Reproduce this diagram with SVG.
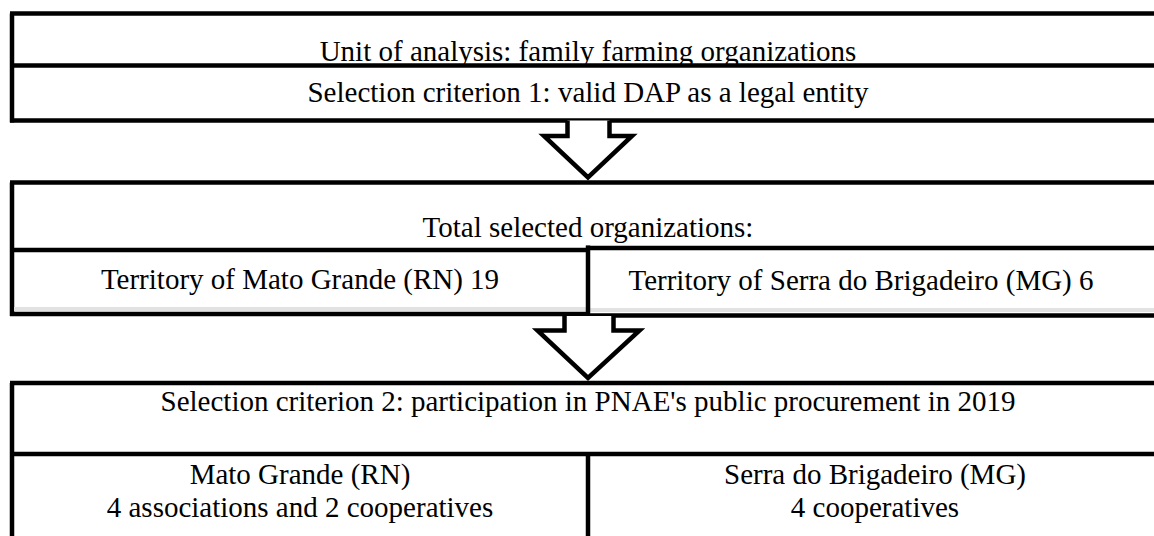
<svg xmlns="http://www.w3.org/2000/svg" width="1154" height="536" viewBox="0 0 1154 536">
<style>
.ln{stroke:#000;stroke-width:4.5;fill:none}
.band{fill:#e2e2e2}
text{font-family:'Liberation Serif',serif;font-size:29px;fill:#000;text-anchor:middle}
.arr{fill:#fff;stroke:#000;stroke-width:4.5;stroke-linejoin:miter}
</style>
<rect width="1154" height="536" fill="#fff"/>
<g id="box1">
<line class="ln" x1="10" y1="13.5" x2="1154" y2="13.5"/>
<line class="ln" x1="12" y1="13.5" x2="12" y2="122.5"/>
<line class="ln" x1="10" y1="65.5" x2="1154" y2="65.5"/>
<line class="ln" x1="10" y1="120.5" x2="1154" y2="120.5"/>
<text x="588" y="61" font-family="Liberation Serif">Unit of analysis: family farming organizations</text>
<text x="588" y="102" font-family="Liberation Serif">Selection criterion 1: valid DAP as a legal entity</text>
</g>
<g id="box2">
<line class="ln" x1="10" y1="182.5" x2="1154" y2="182.5"/>
<line class="ln" x1="12" y1="182.5" x2="12" y2="316"/>
<text x="588" y="237" font-family="Liberation Serif">Total selected organizations:</text>
</g>
<g id="cell-mato-grande-total">
<rect class="band" x="14" y="307" width="574" height="4"/>
<line class="ln" x1="10" y1="250" x2="588" y2="250"/>
<line class="ln" x1="10" y1="314" x2="590" y2="314"/>
<text x="300" y="289" font-family="Liberation Serif">Territory of Mato Grande (RN) 19</text>
</g>
<g id="cell-serra-total">
<rect class="band" x="590" y="308" width="564" height="4"/>
<line class="ln" x1="588" y1="245.5" x2="588" y2="317"/>
<line class="ln" x1="586" y1="248" x2="1154" y2="248"/>
<line class="ln" x1="590" y1="315.5" x2="1154" y2="315.5"/>
<text x="861" y="290" font-family="Liberation Serif">Territory of Serra do Brigadeiro (MG) 6</text>
</g>
<g id="box3">
<line class="ln" x1="10" y1="383" x2="1154" y2="383"/>
<line class="ln" x1="12" y1="383" x2="12" y2="536"/>
<line class="ln" x1="10" y1="454" x2="1154" y2="454"/>
<text x="588" y="411" font-family="Liberation Serif">Selection criterion 2: participation in PNAE's public procurement in 2019</text>
</g>
<g id="cell-mato-grande">
<text x="300" y="484" font-family="Liberation Serif">Mato Grande (RN)</text>
<text x="300" y="517" font-family="Liberation Serif">4 associations and 2 cooperatives</text>
</g>
<g id="cell-serra">
<line class="ln" x1="588" y1="454" x2="588" y2="536"/>
<text x="875" y="484" font-family="Liberation Serif">Serra do Brigadeiro (MG)</text>
<text x="875" y="517" font-family="Liberation Serif">4 cooperatives</text>
</g>
<g id="connectors">
<path class="arr" d="M567.5,120.5 V136 H544 L588,177.5 L632,136 H609.5 V120.5"/>
<path class="arr" d="M564.5,316 V330.5 H537.5 L588,378 L639.5,330.5 H613.5 V316"/>
</g>
</svg>
